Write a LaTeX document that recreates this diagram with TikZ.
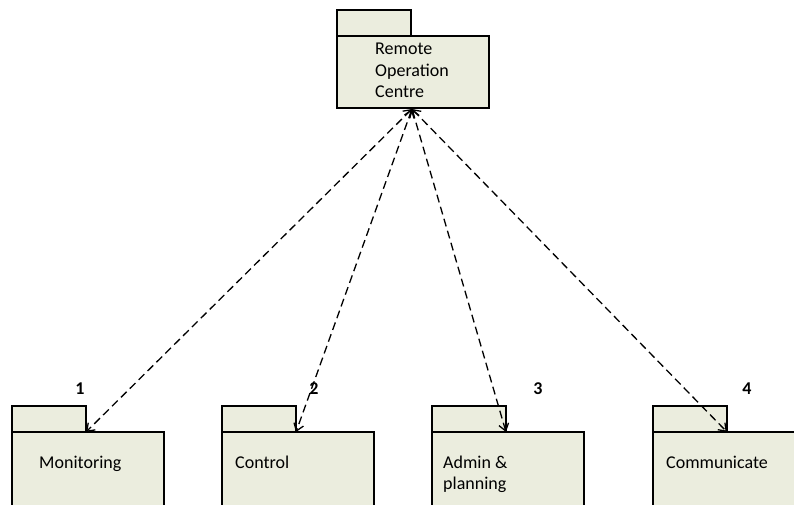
\documentclass[tikz,border=0pt]{standalone}
\usepackage{fontspec}
\setmainfont{Carlito}
\usetikzlibrary{arrows.meta}
\definecolor{pkgfill}{HTML}{EBEDDE}
\begin{document}
\begin{tikzpicture}[x=1pt,y=-1pt,
  pkg/.style={draw=black, line width=2pt, fill=pkgfill, rectangle,
    inner sep=0pt, outer sep=0pt, anchor=north west},
  pkgtab/.style={pkg, minimum width=74pt, minimum height=26pt},
  % base anchor of a multi-line label sits on its last line
  lbl/.style={font=\fontsize{18}{21.5}\selectfont, align=left,
    anchor=base west, inner sep=0pt},
  num/.style={font=\fontsize{18}{21.5}\selectfont\bfseries, inner sep=0pt},
  dep/.style={dash pattern=on 8pt off 4.5pt, line width=1.3pt,
    {Straight Barb[length=7pt,width=10pt]}-{Straight Barb[length=7pt,width=10pt]}}]
  \useasboundingbox (0,0) rectangle (794,505);
  \clip (0,0) rectangle (794,505);

  % top package
  \node[pkgtab] (roctab) at (337,10) {};
  \node[pkg, minimum width=152pt, minimum height=72pt] (roc) at (337,36) {};
  \node[lbl] (roctxt) at (375,98) {Remote\\Operation\\Centre};
  \coordinate (hub) at (412,109);

  % lower packages
  \node[pkgtab] (montab) at (12,406) {};
  \node[pkg, minimum width=152pt, minimum height=90pt] (mon) at (12,432) {};
  \node[lbl] (montxt) at (39,468) {Monitoring};

  \node[pkgtab] (ctltab) at (222,406) {};
  \node[pkg, minimum width=152pt, minimum height=90pt] (ctl) at (222,432) {};
  \node[lbl] (ctltxt) at (235,468) {Control};

  \node[pkgtab] (admtab) at (432,406) {};
  \node[pkg, minimum width=152pt, minimum height=90pt] (adm) at (432,432) {};
  \node[lbl] (admtxt) at (443,489.5) {Admin \&\\planning};

  \node[pkgtab] (comtab) at (653,406) {};
  \node[pkg, minimum width=160pt, minimum height=90pt] (com) at (653,432) {};
  \node[lbl] (comtxt) at (666,468) {Communicate};

  % numbers
  \node[num] (n1) at (80,389) {1};
  \node[num] (n2) at (314,389) {2};
  \node[num] (n3) at (538,389) {3};
  \node[num] (n4) at (747,389) {4};

  % dependencies
  \draw[dep] (hub) -- (montab.south east);
  \draw[dep] (hub) -- (ctltab.south east);
  \draw[dep] (hub) -- (admtab.south east);
  \draw[dep] (hub) -- (comtab.south east);
\end{tikzpicture}
\end{document}
